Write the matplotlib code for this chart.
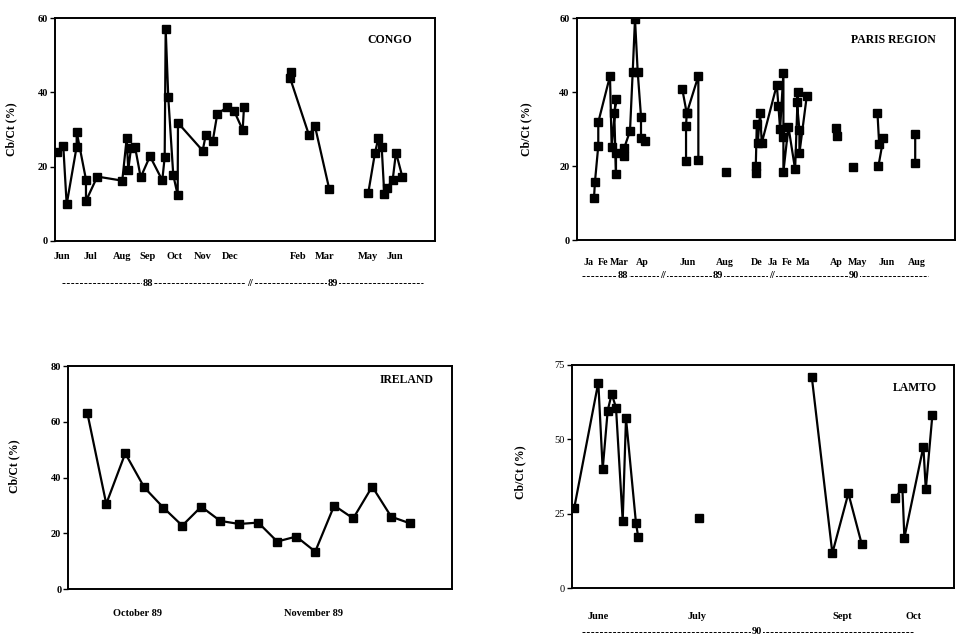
import numpy as np
import matplotlib
matplotlib.use("Agg")
import matplotlib.pyplot as plt
from matplotlib.lines import Line2D

nan = np.nan

# CONGO (x = position along the time axis)
congo_x = [1.7, 8.3, 11.7, 21.7, 21.7, 31, 31, 42.3, 67.3, 71.7, 73.3, 76, 80, 85.7, 95,
           107.3, 109.7, 110.7, 113.3, 118.3, 122.7, 123, 147.7, 150.7, 157.7, 162.3, 172,
           179, 187.7, 189, nan, 235.7, 235, 254, 260, 274.3, nan, 313.3, 320, 323.3,
           326.7, 329.3, 331.7, 337.7, 341, 347.3]
congo_y = [24.0, 25.6, 9.8, 25.4, 29.4, 16.5, 10.7, 17.3, 16.2, 27.6, 19.1, 24.9, 25.4, 17.1,
           22.8, 16.3, 22.5, 57.1, 38.7, 17.7, 12.3, 31.8, 24.3, 28.4, 26.8, 34.2, 36.0,
           35.1, 29.9, 36.0, nan, 45.6, 44.0, 28.5, 30.9, 13.9, nan, 12.9, 23.7, 27.6,
           25.4, 12.5, 14.1, 16.4, 23.8, 17.3]
congo_months = ["Jun", "Jul", "Aug", "Sep", "Oct", "Nov", "Dec", "Feb", "Mar", "May", "Jun"]
congo_month_pos = [7, 35, 67, 93, 120, 148, 175, 243, 270, 313, 340]

# PARIS REGION
paris_x = [17.3, 18.3, 21.6, 21.6, 33.3, 35, 39.3, 37.6, 39.3, 39.3, 47.6, 47.6, 53.3, 56,
           58.3, 61, 64.3, 64.3, 68.3, nan,
           109.3, 109.3, 110, 105.6, nan, 110, 121.6, 121.6, nan,
           149, nan,
           179, 179, 180, 181, 183.3, 185, 200, 201.6, 203.3, 206.6, 206.6, 206.6, 211.6,
           218.3, 221, 220, 222.6, 222.6, 230, nan,
           259, 260.6, nan, 276, nan, 300.6, 302.3, 306.6, 301.6, nan, 338.3, 338.3]
paris_y = [11.3, 15.8, 25.5, 31.9, 44.4, 25.1, 38.3, 34.3, 17.8, 23.5, 22.8, 25.0, 29.5, 45.5,
           59.8, 45.5, 33.4, 27.5, 26.8, nan,
           21.4, 30.9, 34.3, 40.8, nan, 34.3, 44.4, 21.7, nan,
           18.5, nan,
           18.1, 20.1, 31.4, 26.4, 34.3, 26.3, 42.0, 36.3, 30.0, 45.3, 27.9, 18.5, 30.7,
           19.1, 40.2, 37.5, 29.8, 23.5, 39.1, nan,
           30.2, 28.2, nan, 19.9, nan, 34.3, 25.9, 27.7, 20.1, nan, 28.6, 20.9]
paris_months = ["Ja", "Fe", "Mar", "Ap", "Jun", "Aug", "De", "Ja", "Fe", "Ma", "Ap", "May",
                "Jun", "Aug"]
paris_month_pos = [12, 26.5, 43, 66, 111.3, 148.3, 180.3, 195.3, 210.3, 226.3, 259.3,
                   280.3, 309.3, 340.3]

# IRELAND (one sample per step)
ireland_x = list(range(18))
ireland_y = [63.3, 30.6, 48.7, 36.5, 29.3, 22.8, 29.6, 24.5, 23.4, 23.9, 17.1, 18.9, 13.5,
             30.0, 25.4, 36.8, 26.0, 23.6]
ireland_months = ["October 89", "November 89"]
ireland_month_pos = [2.67, 11.9]

# LAMTO
lamto_x = [2.6, 26.6, 31, 36, 40, 44.3, 51, 54.3, 64.3, 66.6, nan, 127.6, nan, 240, 260.6,
           276.6, 290, nan, 323.3, 330.6, 332.6, 351.6, 354, 360.6]
lamto_y = [27.1, 69.1, 40.0, 59.7, 65.3, 60.7, 22.7, 57.1, 21.8, 17.1, nan, 23.5, nan, 71.1,
           11.8, 31.9, 14.8, nan, 30.2, 33.8, 17.0, 47.6, 33.2, 58.2]
lamto_months = ["June", "July", "Sept", "Oct"]
lamto_month_pos = [26.3, 125.3, 270.3, 341.3]

plt.rcParams['font.family'] = ['Liberation Serif', 'DejaVu Serif']
plt.rcParams['font.weight'] = 'bold'

fig = plt.figure(figsize=(9.56, 6.35), dpi=100)
W, H = 956.0, 635.0


def panel(rect, x, y, xlim, ylim, yticks, months, mpos, name, name_xy, lab_pad,
          ytick_weight='bold', xfs=7.5):
    ax = fig.add_axes(rect)
    ax.plot(x, y, color='black', lw=1.6, marker='s', ms=5.5, mfc='black', mec='black')
    ax.set_xlim(*xlim)
    ax.set_ylim(*ylim)
    ax.set_yticks(yticks)
    ax.set_yticklabels([str(v) for v in yticks], fontsize=7.5, fontweight=ytick_weight)
    ax.set_xticks(mpos)
    ax.set_xticklabels(months, fontsize=xfs, fontweight='bold')
    ax.tick_params(axis='x', length=0, pad=lab_pad)
    ax.tick_params(axis='y', length=3.5, width=1, pad=1.5, direction='out')
    for sp in ax.spines.values():
        sp.set_linewidth(1.4)
    ax.set_ylabel('Cb/Ct (%)', fontsize=8.5, fontweight='bold')
    ax.text(name_xy[0], name_xy[1], name, transform=ax.transAxes, ha='center',
            va='center', fontsize=8.5, fontweight='bold')
    return ax


def year_line(x0, x1, ypx, labels):
    yf = 1 - ypx / H
    fig.add_artist(Line2D([x0 / W, x1 / W], [yf, yf], transform=fig.transFigure,
                          color='black', lw=0.7, ls=(0, (3, 1.5))))
    for txt, xp in labels:
        fig.text(xp / W, yf, txt, ha='center', va='center', fontsize=7.5,
                 fontweight='bold', bbox=dict(facecolor='white', edgecolor='none', pad=0.5))


ax1 = panel([0.0575, 0.621, 0.3975, 0.350], congo_x, congo_y, (0, 380), (0, 60),
            [0, 20, 40, 60], congo_months, congo_month_pos, 'CONGO', (0.88, 0.905), 8.5)
ax1.yaxis.set_label_coords(-0.098, 0.5)
year_line(62, 423, 283, [('88', 148), ('//', 250), ('89', 333)])

ax2 = panel([0.6032, 0.622, 0.396, 0.349], paris_x, paris_y, (0, 378.3), (0, 60),
            [0, 20, 40, 60], paris_months, paris_month_pos, 'PARIS REGION', (0.836, 0.902),
            13, xfs=7.2)
ax2.yaxis.set_label_coords(-0.117, 0.5)
year_line(582, 928, 276, [('88', 623), ('//', 663), ('89', 718), ('//', 772), ('90', 854)])

ax3 = panel([0.0714, 0.072, 0.401, 0.3516], ireland_x, ireland_y, (-1.0, 19.18), (0, 80),
            [0, 20, 40, 60, 80], ireland_months, ireland_month_pos, 'IRELAND',
            (0.883, 0.937), 14)
ax3.yaxis.set_label_coords(-0.125, 0.55)

ax4 = panel([0.598, 0.0735, 0.400, 0.3517], lamto_x, lamto_y, (0, 382.3), (0, 75),
            [0, 25, 50, 75], lamto_months, lamto_month_pos, 'LAMTO', (0.898, 0.897), 17,
            ytick_weight='normal')
ax4.yaxis.set_label_coords(-0.118, 0.52)
year_line(582, 913, 632, [('90', 757)])

fig.savefig('out.png', dpi=100)
